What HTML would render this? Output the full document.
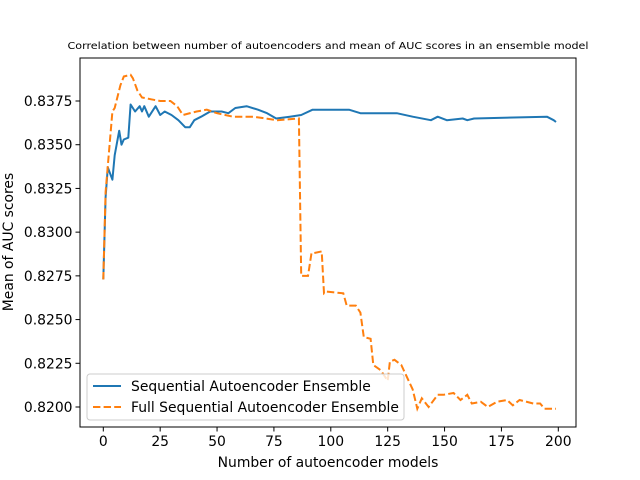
<!DOCTYPE html>
<html><head><meta charset="utf-8"><style>
body{margin:0;background:#fff;}
svg{display:block;font-family:"DejaVu Sans","Liberation Sans",sans-serif;}
</style></head><body>
<svg id="chart" width="640" height="480" viewBox="0 0 640 480" xmlns="http://www.w3.org/2000/svg">
<rect width="640" height="480" fill="#fff"/>
<text x="328" y="49" font-size="9.5" text-anchor="middle" textLength="521" lengthAdjust="spacingAndGlyphs">Correlation between number of autoencoders and mean of AUC scores in an ensemble model</text>
<g id="plot"></g>
<text x="328" y="467" font-size="13.9" text-anchor="middle">Number of autoencoder models</text>
<text transform="translate(13,242) rotate(-90)" font-size="13.9" text-anchor="middle">Mean of AUC scores</text>
</svg>
<script>
const xTicks=[0,25,50,75,100,125,150,175,200];
const yTicks=[0.8200,0.8225,0.8250,0.8275,0.8300,0.8325,0.8350,0.8375];
const seqX=[0,1,2,4,5,7,8,9,11,12,14,16,17,18,20,23,25,27,30,33,36,38,40,43,47,52,55,58,63,68,72,76,82,87,92,103,108,113,122,129,136,144,147,151,158,160,163,195,198,199];
const seqY=[0.8273,0.8320,0.8337,0.8330,0.8344,0.8358,0.8350,0.8353,0.8354,0.8373,0.8369,0.8372,0.8369,0.8372,0.8366,0.8372,0.8367,0.8369,0.8367,0.8364,0.8360,0.8360,0.8364,0.8366,0.8369,0.8369,0.8368,0.8371,0.8372,0.8370,0.8368,0.8365,0.8366,0.8367,0.8370,0.8370,0.8370,0.8368,0.8368,0.8368,0.8366,0.8364,0.8366,0.8364,0.8365,0.8364,0.8365,0.8366,0.8364,0.8363];
const fullX=[0,1,4,5,7.5,9,12,13,15,17,21,25,29.5,32.5,35,41,45.5,50,57,66,76.5,86,87,90,91.5,92.5,96,97,98,105.5,107,111,113,114.5,117.5,118.7,122,125,126,128,131,136,138,140,143,147,149.5,154,157,160,162,166,169,173,177.5,180,183,189,192,194,198,199];
const fullY=[0.8273,0.8323,0.8369,0.8371,0.8384,0.8389,0.8390,0.8388,0.8381,0.8377,0.8376,0.8375,0.8375,0.8372,0.8367,0.8369,0.8370,0.8368,0.8366,0.8366,0.8364,0.8365,0.8275,0.8275,0.8288,0.8288,0.8289,0.8265,0.8266,0.8265,0.8258,0.8258,0.8254,0.8240,0.8239,0.8224,0.8221,0.8215,0.8226,0.8227,0.8224,0.8210,0.8199,0.8205,0.8200,0.8207,0.8207,0.8208,0.8204,0.8207,0.8202,0.8203,0.8200,0.8203,0.8204,0.8201,0.8204,0.8202,0.8202,0.8199,0.8199,0.8199];
const L=80,R=576,T=58,B=427;
const xs=v=>103.3+v*(558.3-103.3)/200;
const ys=v=>407-(v-0.82)*(407-101)/0.0175;
const NS="http://www.w3.org/2000/svg";
const g=document.getElementById('plot');
function mk(tag,attrs,parent){const e=document.createElementNS(NS,tag);for(const k in attrs)e.setAttribute(k,attrs[k]);(parent||g).appendChild(e);return e;}
function pts(X,Y){return X.map((x,i)=>xs(x).toFixed(1)+','+ys(Y[i]).toFixed(1)).join(' ');}
let s=mk('polyline',{points:pts(seqX,seqY),fill:'none',stroke:'#1f77b4','stroke-width':2,'stroke-linejoin':'round'});


let f=mk('polyline',{points:pts(fullX,fullY),fill:'none',stroke:'#ff7f0e','stroke-width':2,'stroke-dasharray':'7.4,3.2'});


let fr=mk('rect',{x:L,y:T,width:R-L,height:B-T,fill:'none',stroke:'#000','stroke-width':1});


xTicks.forEach(t=>{const x=xs(t);
 mk('line',{x1:x,x2:x,y1:B,y2:B+4.5,stroke:'#000','stroke-width':1});
 const tx=mk('text',{x:x,y:B+19,'font-size':13.9,'text-anchor':'middle'});tx.textContent=t;
 
 });
yTicks.forEach(t=>{const y=ys(t);
 mk('line',{x1:L-4.5,x2:L,y1:y,y2:y,stroke:'#000','stroke-width':1});
 const tx=mk('text',{x:L-7.5,y:y+5,'font-size':13.9,'text-anchor':'end'});tx.textContent=t.toFixed(4);
 
 });
const lg=mk('g',{});


mk('rect',{x:87,y:374,width:317,height:46,rx:3,fill:'#fff','fill-opacity':0.8,stroke:'#ccc','stroke-width':1},lg);
mk('line',{x1:93,x2:121,y1:386,y2:386,stroke:'#1f77b4','stroke-width':2},lg);
mk('line',{x1:93,x2:121,y1:407,y2:407,stroke:'#ff7f0e','stroke-width':2,'stroke-dasharray':'7.4,3.2'},lg);
let l1=mk('text',{x:131,y:391,'font-size':13.9},lg);l1.textContent='Sequential Autoencoder Ensemble';


let l2=mk('text',{x:131,y:412,'font-size':13.9},lg);l2.textContent='Full Sequential Autoencoder Ensemble';


</script>
</body></html>
